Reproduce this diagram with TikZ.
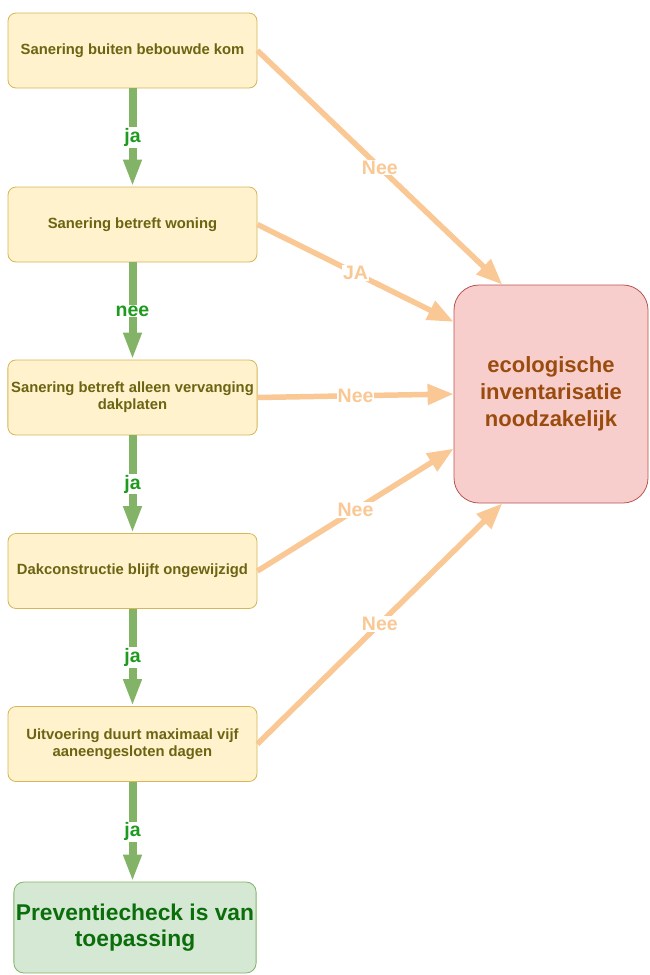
\documentclass[tikz,border=0pt]{standalone}
\usepackage{fontspec}
\setmainfont{Liberation Sans}
\usetikzlibrary{arrows.meta,calc}
\definecolor{geel}{HTML}{FFF2CC}
\definecolor{geelrand}{HTML}{D6B656}
\definecolor{olijf}{HTML}{6B6412}
\definecolor{groenpijl}{HTML}{82B366}
\definecolor{groentekst}{HTML}{1E9A1E}
\definecolor{oranje}{HTML}{FAC894}
\definecolor{rood}{HTML}{F8CECC}
\definecolor{roodrand}{HTML}{B85450}
\definecolor{bruin}{HTML}{9A4C0E}
\definecolor{lichtgroen}{HTML}{D5E8D4}
\definecolor{donkergroen}{HTML}{0B6E0B}
\begin{document}
\begin{tikzpicture}[x=1pt,y=-1pt,
vraag/.style={draw=geelrand,fill=geel,line width=0.8pt,rounded corners=8pt,minimum width=249pt,minimum height=75pt,align=center,text=olijf,font=\bfseries\fontsize{14.8}{17}\selectfont},
eind/.style={draw=roodrand,fill=rood,line width=0.8pt,rounded corners=25pt,minimum width=194pt,minimum height=218pt,align=center,text=bruin,font=\bfseries\fontsize{22}{27}\selectfont},
check/.style={draw=groenpijl,fill=lichtgroen,line width=0.8pt,rounded corners=10pt,minimum width=242pt,minimum height=91pt,inner xsep=2pt,align=center,text=donkergroen,font=\bfseries\fontsize{22.8}{26}\selectfont},
ja/.style={draw=groenpijl,line width=8pt,-{Triangle[length=27pt,width=17pt]}},
nee/.style={draw=oranje,line width=5.5pt,-{Triangle[length=26pt,width=20pt]}},
lblja/.style={fill=white,inner sep=1pt,text=groentekst,font=\bfseries\fontsize{19.5}{19.5}\selectfont},
lblnee/.style={fill=white,inner sep=1pt,text=oranje,font=\bfseries\fontsize{19.5}{19.5}\selectfont}]
\useasboundingbox(0,0)rectangle(649,975);
\node[vraag](v1)at(132.5,50.5){Sanering buiten bebouwde kom};
\node[vraag](v2)at(132.5,224.5){Sanering betreft woning};
\node[vraag](v3)at(132.5,397.5){Sanering betreft alleen vervanging\\dakplaten};
\node[vraag](v4)at(132.5,571){Dakconstructie blijft ongewijzigd};
\node[vraag](v5)at(132.5,744){Uitvoering duurt maximaal vijf\\aaneengesloten dagen};
\node[eind](eco)at(551,394){ecologische\\inventarisatie\\noodzakelijk};
\node[check](pc)at(135,927.5){Preventiecheck is van\\toepassing};
\coordinate(e1)at($(eco.north west)!.25!(eco.north east)$);
\coordinate(e2)at($(eco.north west)!.17!(eco.south west)$);
\coordinate(e3)at(eco.west);
\coordinate(e4)at($(eco.north west)!.75!(eco.south west)$);
\coordinate(e5)at($(eco.south west)!.25!(eco.south east)$);
\foreach \a/\b/\t in {v1/v2/ja,v2/v3/nee,v3/v4/ja,v4/v5/ja,v5/pc/ja}{\draw[ja](\a.south)--(\a.south|-\b.north)node[midway,lblja]{\t};}
\foreach \a/\e/\t in {v1/e1/Nee,v2/e2/JA,v3/e3/Nee,v4/e4/Nee,v5/e5/Nee}{\draw[nee](\a.east)--(\e)node[midway,lblnee]{\t};}
\end{tikzpicture}
\end{document}
